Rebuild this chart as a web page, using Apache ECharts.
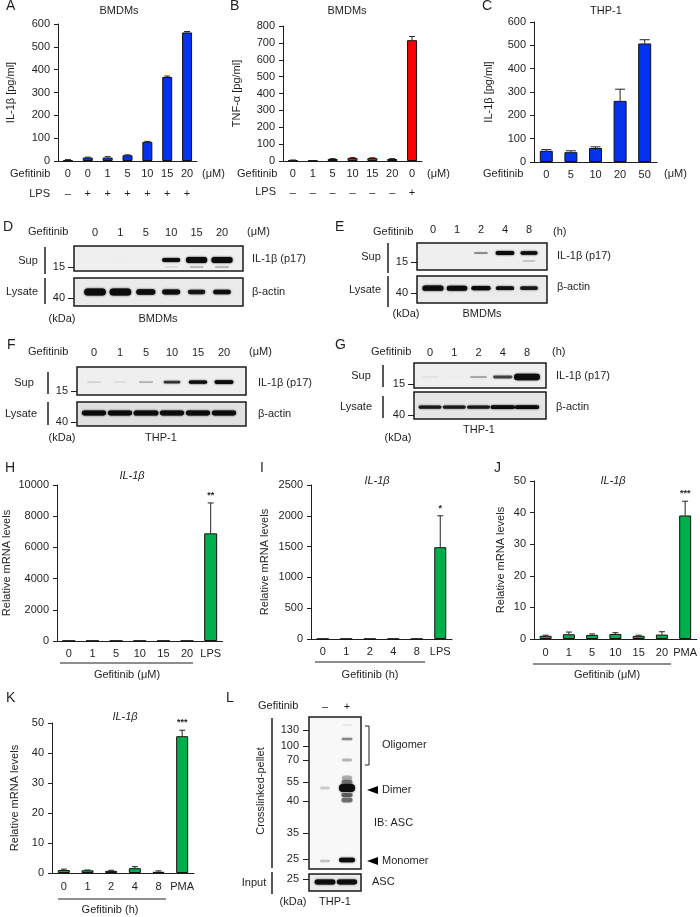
<!DOCTYPE html>
<html><head><meta charset="utf-8">
<style>html,body{margin:0;padding:0;background:#fff}#c{width:700px;height:917px}#c canvas{filter:blur(0.35px)}</style>
<script src="https://cdn.jsdelivr.net/npm/echarts@6/dist/echarts.min.js"></script>
</head><body><div id="c"></div>
<script>
// ---------- bar chart data ----------
const gefA=['0','0','1','5','10','15','20'];
const lpsA=['–','+','+','+','+','+','+'];
const valA=[3,15,15,25,84,368,563];
const errA=[3,2,4,2,2,4,4];
const gefB=['0','1','5','10','15','20','0'];
const lpsB=['–','–','–','–','–','–','+'];
const valB=[4,2,12,18,17,12,716];
const errB=[2,1,2,2,2,2,22];
const gefC=['0','5','10','20','50'];
const valC=[48,42,60,262,508];
const errC=[5,6,5,50,16];
const catH=['0','1','5','10','15','20','LPS'];
const valH=[15,15,15,15,15,15,6900];
const errH=[0,0,0,0,0,0,1950];
const catI=['0','1','2','4','8','LPS'];
const valI=[3,3,3,3,3,1490];
const errI=[0,0,0,0,0,510];
const catJ=['0','1','5','10','15','20','PMA'];
const valJ=[1.0,1.5,1.3,1.6,1.0,1.4,39.1];
const errJ=[0.2,0.7,0.3,0.4,0.2,0.9,4.5];
const catK=['0','1','2','4','8','PMA'];
const valK=[1.0,0.9,0.7,1.6,0.4,45.6];
const errK=[0.3,0.1,0.2,0.5,0.3,2.0];
// ---------- blot band intensities per lane ----------
const lanesUM=['0','1','5','10','15','20'];
const lanesH=['0','1','2','4','8'];
const dSup=[0,0.01,0,0.6,0.95,0.95];
const dSupLow=[0,0,0,0.06,0.13,0.13];
const dLys=[1,1,0.72,0.6,0.52,0.56];
const eSup=[0,0,0.22,0.8,0.6];
const eSupLow=[0,0,0,0,0.12];
const eLys=[0.85,0.8,0.65,0.55,0.5];
const fSup=[0.1,0.06,0.14,0.42,0.6,0.65];
const fLys=[0.62,0.62,0.66,0.62,0.62,0.62];
const gSup=[0.04,0.02,0.16,0.38,1.25];
const gLys=[0.5,0.5,0.5,0.62,0.62];
const lLanes=['–','+'];
const lBands=[[1,8,0.04,2],[1,22,0.24,2.5],[1,43,0.14,3],[0,71,0.1,3],[1,61,0.16,5],[1,65,0.28,4],[1,78,0.32,4],[1,83,0.28,5],[1,71,1.4,8],[0,144,0.12,2.5],[1,143,1.2,4.5]];
const lInput=[1,0.95];
const kdaL=['130','100','70','55','40','35','25'];
const kdaLDist=[13,29,43,65,84,116,142];

const FONT='"Liberation Sans", Arial, sans-serif';
const INK='#1f1f1f';
const grid=[],xAxis=[],yAxis=[],series=[],graphic=[];

function txt(text,x,y,align,size,extra){
  graphic.push(Object.assign({type:'text',x:x,y:y,silent:true,style:{text:text,fill:INK,
    font:(extra&&extra.italic?'italic ':'')+(size||11)+'px '+FONT,
    textAlign:align||'left',textVerticalAlign:'middle',align:align||'left',verticalAlign:'middle'}},
    extra&&extra.rotation?{rotation:extra.rotation}:{}));
}
function ln(x1,y1,x2,y2,w){
  graphic.push({type:'line',silent:true,shape:{x1,y1,x2,y2},style:{stroke:INK,lineWidth:w||1}});
}
function tri(xTip,xBase,y,h){
  graphic.push({type:'polygon',silent:true,shape:{points:[[xTip,y],[xBase,y-h],[xBase,y+h]]},style:{fill:'#000'}});
}

function barChart(o){
  const g=grid.length;
  grid.push({left:o.l,top:o.t,width:o.r-o.l,height:o.b-o.t,containLabel:false});
  xAxis.push({gridIndex:g,type:'category',data:o.cats,
    axisLine:{lineStyle:{color:INK,width:1}},axisTick:{show:false},
    axisLabel:{color:INK,fontFamily:FONT,fontSize:11,margin:o.xm,interval:0,hideOverlap:false,
      lineHeight:o.lh||13,
      formatter:o.second?((v,i)=>o.cats[i]+'\n'+o.second[i]):undefined}});
  yAxis.push({gridIndex:g,type:'value',min:0,max:o.max,interval:o.step,splitLine:{show:false},
    axisLine:{show:true,lineStyle:{color:INK,width:1}},
    axisTick:{show:true,length:4,lineStyle:{color:INK,width:1}},
    axisLabel:{color:INK,fontFamily:FONT,fontSize:11,margin:8,formatter:v=>String(v)},
    name:o.yName,nameLocation:'middle',nameGap:o.nameGap,
    nameTextStyle:{color:INK,fontFamily:FONT,fontSize:11}});
  series.push({type:'bar',xAxisIndex:g,yAxisIndex:g,data:o.vals,barWidth:o.bw,silent:true,
    itemStyle:{color:o.color,borderColor:'#111',borderWidth:1}});
  const errData=o.vals.map((v,i)=>[i,v,o.errs[i]]);
  series.push({type:'custom',xAxisIndex:g,yAxisIndex:g,silent:true,clip:false,z:3,data:errData,
    encode:{x:0,y:[1,2]},
    renderItem:(p,api)=>{
      const i=api.value(0),v=api.value(1),e=api.value(2);
      const a=api.coord([i,v]),b=api.coord([i,v+e]);
      const cap=o.cap||3;
      const kids=[];
      if(e>0){
        kids.push({type:'line',shape:{x1:a[0],y1:a[1],x2:b[0],y2:b[1]},style:{stroke:'#222',lineWidth:1}});
        kids.push({type:'line',shape:{x1:b[0]-cap,y1:b[1],x2:b[0]+cap,y2:b[1]},style:{stroke:'#222',lineWidth:1}});
      }
      if(o.star&&p.dataIndex===o.vals.length-1){
        kids.push({type:'text',x:b[0],y:b[1]-3,style:{text:o.star,fill:INK,font:'bold 9px '+FONT,
          textAlign:'center',textVerticalAlign:'bottom',align:'center',verticalAlign:'bottom'}});
      }
      return {type:'group',children:kids};
    }});
}

function bandShape(cx,cy,w,h,i){
  const a=Math.min(1,i*1.7);
  const col='rgba(12,12,12,'+a.toFixed(3)+')';
  return {type:'rect',shape:{x:cx-w/2,y:cy-h/2,width:w,height:h,r:h/2},
    style:{fill:col,shadowColor:col,shadowBlur:2}};
}

function blot(o){
  const g=grid.length,n=o.labels.length,sp=(o.laneN-o.lane0)/(n-1);
  grid.push({show:true,left:o.l,top:o.t,width:o.r-o.l,height:o.b-o.t,borderColor:'#1a1a1a',borderWidth:1.5,
    backgroundColor:o.bg||'#efefef'});
  const laneVals=o.labels.map((_,i)=>i);
  xAxis.push({gridIndex:g,type:'value',position:'top',
    min:-(o.lane0-o.l)/sp,max:(n-1)+(o.r-o.laneN)/sp,
    splitLine:{show:false},axisLine:{show:false,onZero:false},axisTick:{show:false},
    axisLabel:{show:!!o.showLanes,customValues:laneVals,margin:o.xm||8,color:INK,fontFamily:FONT,fontSize:11,
      formatter:v=>o.labels[Math.round(v)]}});
  yAxis.push({gridIndex:g,type:'value',position:'left',min:0,max:o.ymax||1,inverse:!!o.inv,splitLine:{show:false},
    axisLine:{show:false,onZero:false},
    axisTick:{show:true,length:o.tickLen||6,customValues:o.ticks,lineStyle:{color:INK,width:1}},
    axisLabel:{show:true,customValues:o.ticks,margin:o.ym||9,color:INK,fontFamily:FONT,fontSize:11,
      formatter:v=>o.tickLabels[o.ticks.indexOf(v)]}});
  const hMax=o.h, wS=o.ws||1;
  series.push({type:'custom',xAxisIndex:g,yAxisIndex:g,silent:true,clip:true,data:o.bands,
    encode:{x:0,y:1},
    renderItem:(p,api)=>{
      const lane=api.value(0),pos=api.value(1),i=api.value(2),th=o.bands[p.dataIndex][3];
      if(i<=0.005) return {type:'group',children:[]};
      const c=api.coord([lane,pos]);
      const w=sp*wS*(0.5+0.35*Math.min(1,i));
      const h=th||hMax*(0.2+0.8*Math.min(1.4,i));
      return bandShape(c[0],c[1],w,h,i);
    }});
}
const row=(arr,pos)=>arr.map((v,i)=>[i,pos,v]);

// ---------- Bars ----------
const BLUE='#0433f0',RED='#ff0000',GREEN='#00ae4d';
barChart({l:58,r:197,t:24,b:161,cats:gefA,second:lpsA,vals:valA,errs:errA,max:600,step:100,bw:10,color:BLUE,xm:3,lh:20,yName:'IL-1β [pg/ml]',nameGap:42});
barChart({l:283,r:422,t:26,b:161,cats:gefB,second:lpsB,vals:valB,errs:errB,max:800,step:100,bw:10,color:RED,xm:4,lh:18.5,yName:'TNF-α [pg/ml]',nameGap:41});
barChart({l:534,r:657,t:22,b:162,cats:gefC,vals:valC,errs:errC,max:600,step:100,bw:13,color:BLUE,xm:6,yName:'IL-1β [pg/ml]',nameGap:40,cap:5});
barChart({l:53,r:222.5,t:485,b:641,cats:catH,vals:valH,errs:errH,max:10000,step:2000,bw:13,color:GREEN,xm:6,yName:'Relative mRNA levels',nameGap:45,star:'**'});
barChart({l:311,r:452,t:485,b:639,cats:catI,vals:valI,errs:errI,max:2500,step:500,bw:12,color:GREEN,xm:6,yName:'Relative mRNA levels',nameGap:41,star:'*'});
barChart({l:534,r:698,t:481,b:639,cats:catJ,vals:valJ,errs:errJ,max:50,step:10,bw:12,color:GREEN,xm:7,yName:'Relative mRNA levels',nameGap:28,star:'***'});
barChart({l:52,r:194,t:723,b:873,cats:catK,vals:valK,errs:errK,max:50,step:10,bw:12,color:GREEN,xm:7,yName:'Relative mRNA levels',nameGap:32,star:'***'});

// ---------- Blots ----------
blot({l:74,r:243,t:246,b:271,lane0:95,laneN:222,labels:lanesUM,showLanes:true,h:6,ticks:[0.16],tickLabels:['15'],
  bands:row(dSup,0.44).concat(row(dSupLow,0.16))});
blot({l:74,r:243,t:278,b:306,lane0:95,laneN:222,labels:lanesUM,h:7,bg:'#ebebeb',ticks:[0.29],tickLabels:['40'],bands:row(dLys,0.5)});
blot({l:417,r:547,t:243,b:270,lane0:433,laneN:529,labels:lanesH,showLanes:true,h:5,xm:8,ticks:[0.3],tickLabels:['15'],
  bands:row(eSup,0.63).concat(row(eSupLow,0.33))});
blot({l:417,r:547,t:276,b:303,lane0:433,laneN:529,labels:lanesH,h:6,bg:'#ebebeb',ws:1.1,ticks:[0.37],tickLabels:['40'],bands:row(eLys,0.55)});
blot({l:77,r:246,t:367,b:395,lane0:94,laneN:224,labels:lanesUM,showLanes:true,h:5,xm:9,ticks:[0.14],tickLabels:['15'],bands:row(fSup,0.46)});
blot({l:77,r:246,t:402,b:426,lane0:94,laneN:224,labels:lanesUM,h:7,ws:1.3,bg:'#e0e0e0',ticks:[0.17],tickLabels:['40'],bands:row(fLys,0.54)});
blot({l:414,r:546,t:363,b:388,lane0:430,laneN:527,labels:lanesH,showLanes:true,h:5.5,ws:1.25,xm:5,ticks:[0.16],tickLabels:['15'],bands:row(gSup,0.44)});
blot({l:414,r:546,t:392,b:419,lane0:430,laneN:527,labels:lanesH,h:5.5,ws:1.4,bg:'#e6e6e6',ticks:[0.15],tickLabels:['40'],bands:row(gLys,0.44)});
blot({l:309,r:361,t:717,b:869,lane0:325,laneN:347,labels:lLanes,showLanes:true,h:8,ws:0.85,xm:5,inv:true,ymax:152,ym:10,
  ticks:kdaLDist,tickLabels:kdaL,bg:'#f8f8f8',bands:lBands});
blot({l:309,r:361,t:874,b:891,lane0:325,laneN:347,labels:lLanes,h:5,ws:1.1,bg:'#ebebeb',ym:10,ticks:[0.7],tickLabels:['25'],bands:row(lInput,0.53)});

// ---------- Panel letters ----------
[['A',6,6],['B',230,6],['C',482,6],['D',3,227],['E',335,227],['F',7,345],['G',335,345],
 ['H',5,468],['I',260,468],['J',494,468],['K',6,698],['L',226,698]].forEach(a=>txt(a[0],a[1],a[2],'left',14));
// ---------- Titles ----------
txt('BMDMs',119,11,'center');txt('BMDMs',347,11,'center');txt('THP-1',606,11,'center');
txt('IL-1β',132,476,'center',11,{italic:true});txt('IL-1β',377,481,'center',11,{italic:true});
txt('IL-1β',613,481,'center',11,{italic:true});txt('IL-1β',125,717,'center',11,{italic:true});
// ---------- Bar row labels ----------
txt('Gefitinib',10,174);txt('(μM)',202,174);txt('LPS',50,194,'right');
txt('Gefitinib',237,174);txt('(μM)',427,174);txt('LPS',276,192,'right');
txt('Gefitinib',483,174);txt('(μM)',664,174);
// ---------- Group underlines ----------
ln(60,663,193,663);txt('Gefitinib (μM)',127,675,'center');
ln(315,662,425,662);txt('Gefitinib (h)',370,675,'center');
ln(533,664,671,664);txt('Gefitinib (μM)',607,675,'center');
ln(58,899,166,899);txt('Gefitinib (h)',110,910,'center');
// ---------- Blot D ----------
txt('Gefitinib',28,232);txt('(μM)',247,232);txt('Sup',28,261,'center');txt('Lysate',22,292,'center');
ln(45,247,45,274,1.5);ln(45,278,45,304,1.5);txt('IL-1β (p17)',252,259);txt('β-actin',252,292);
txt('(kDa)',62,319,'center');txt('BMDMs',158,319,'center');
// ---------- Blot E ----------
txt('Gefitinib',373,232);txt('(h)',553,232);txt('Sup',371,257,'center');txt('Lysate',381,290,'right');
ln(388,243,388,273,1.5);ln(388,276,388,307,1.5);txt('IL-1β (p17)',557,256);txt('β-actin',557,287);
txt('(kDa)',406,314,'center');txt('BMDMs',482,314,'center');
// ---------- Blot F ----------
txt('Gefitinib',28,352);txt('(μM)',249,352);txt('Sup',24,383,'center');txt('Lysate',21,414,'center');
ln(48,372,48,394,1.5);ln(48,402,48,425,1.5);txt('IL-1β (p17)',258,383);txt('β-actin',258,414);
txt('(kDa)',62,438,'center');txt('THP-1',161,438,'center');
// ---------- Blot G ----------
txt('Gefitinib',371,352);txt('(h)',552,352);txt('Sup',361,376,'center');txt('Lysate',372,407,'right');
ln(383,365,383,387,1.5);ln(383,396,383,418,1.5);txt('IL-1β (p17)',556,376);txt('β-actin',556,407);
txt('(kDa)',398,438,'center');txt('THP-1',479,430,'center');
// ---------- Blot L ----------
txt('Gefitinib',258,706);ln(272,718,272,868,1.5);ln(272,872,272,894,1.5);
txt('Crosslinked-pellet',261,791,'center',11,{rotation:Math.PI/2});
txt('Input',254,883,'center');
graphic.push({type:'polyline',silent:true,shape:{points:[[365,726],[369,726],[369,765],[365,765]]},style:{stroke:INK,lineWidth:1,fill:null}});
txt('Oligomer',382,745);tri(367,378,790,4);txt('Dimer',382,790);txt('IB: ASC',374,823);
tri(367,378,861,4);txt('Monomer',382,861);txt('ASC',372,882);
txt('(kDa)',293,902,'center');txt('THP-1',335,902,'center');

const chart=echarts.init(document.getElementById('c'),null,{renderer:'canvas',width:700,height:917});
chart.setOption({animation:false,backgroundColor:'#fff',textStyle:{fontFamily:FONT},
  grid,xAxis,yAxis,series,graphic:{elements:graphic}});
</script></body></html>
